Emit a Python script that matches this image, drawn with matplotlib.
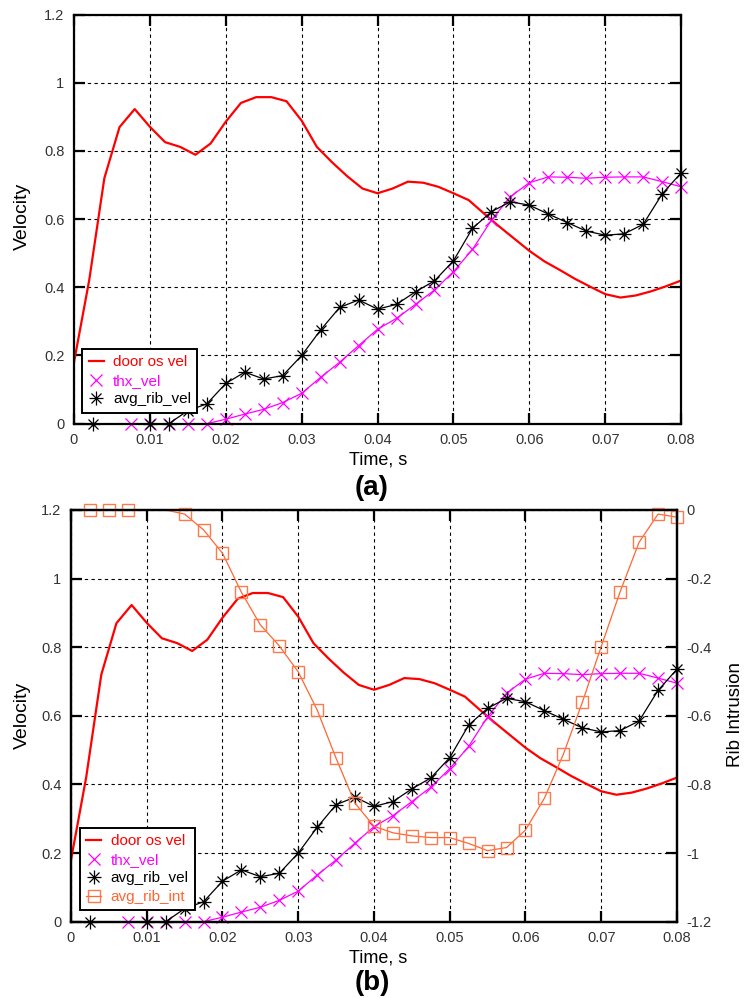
import numpy as np
import matplotlib
matplotlib.use("Agg")
import matplotlib.pyplot as plt
from matplotlib.lines import Line2D
from matplotlib.ticker import FormatStrFormatter, MultipleLocator
from matplotlib.legend_handler import HandlerTuple

plt.rcParams['font.family'] = ['Liberation Sans', 'DejaVu Sans']
plt.rcParams['axes.unicode_minus'] = False

# door os vel, sampled every 2 ms
door_t = np.arange(0, 0.0801, 0.002)
door_vel = [0.18, 0.42, 0.72, 0.87, 0.923, 0.871, 0.826, 0.812, 0.789, 0.822,
            0.886, 0.941, 0.958, 0.958, 0.946, 0.889, 0.812, 0.767, 0.726, 0.690,
            0.676, 0.690, 0.710, 0.707, 0.695, 0.676, 0.656, 0.617, 0.579, 0.543,
            0.507, 0.476, 0.451, 0.425, 0.402, 0.380, 0.370, 0.376, 0.388, 0.403,
            0.420]

thx_t = [0.0075, 0.01, 0.0125, 0.015, 0.0175, 0.02, 0.0225, 0.025, 0.0275, 0.03,
         0.0325, 0.035, 0.0375, 0.04, 0.0425, 0.045, 0.0475, 0.05, 0.0525, 0.055,
         0.0575, 0.06, 0.0625, 0.065, 0.0675, 0.07, 0.0725, 0.075, 0.0775, 0.08]
thx_vel = [0, 0, 0, 0, 0, 0.013, 0.028, 0.042, 0.062, 0.089,
           0.136, 0.180, 0.229, 0.277, 0.309, 0.350, 0.392, 0.446, 0.511, 0.597,
           0.666, 0.707, 0.724, 0.723, 0.720, 0.723, 0.724, 0.724, 0.710, 0.695]

rib_t = [0.0025, 0.005, 0.0075, 0.01, 0.0125, 0.015, 0.0175, 0.02, 0.0225, 0.025,
         0.0275, 0.03, 0.0325, 0.035, 0.0375, 0.04, 0.0425, 0.045, 0.0475, 0.05,
         0.0525, 0.055, 0.0575, 0.06, 0.0625, 0.065, 0.0675, 0.07, 0.0725, 0.075,
         0.0775, 0.08]
rib_vel = [0, 0, 0, 0, 0, 0.038, 0.058, 0.118, 0.151, 0.131,
           0.141, 0.200, 0.275, 0.341, 0.363, 0.336, 0.350, 0.387, 0.419, 0.478,
           0.573, 0.622, 0.651, 0.641, 0.615, 0.590, 0.565, 0.553, 0.557, 0.585,
           0.674, 0.736]
rib_int = [0, 0, 0, 0, 0, -0.012, -0.058, -0.126, -0.240, -0.335,
           -0.396, -0.472, -0.583, -0.724, -0.855, -0.922, -0.941, -0.950, -0.955, -0.955,
           -0.972, -0.993, -0.984, -0.933, -0.840, -0.712, -0.561, -0.398, -0.238, -0.094,
           -0.012, -0.021]

x_ticks = [0, 0.01, 0.02, 0.03, 0.04, 0.05, 0.06, 0.07, 0.08]

RED = '#FF0000'
MAG = '#FF00FF'
ORANGE = '#FF6633'
ORANGE_MK = '#FF7A4A'

# markers shown on the vel / int curves (the plotted data is not touched)
vel_marks = [0, 3, 4] + list(range(5, len(rib_t)))
int_marks = [0, 1, 2] + list(range(5, len(rib_t)))


def style_axes(ax):
    ax.set_xlim(0, 0.08)
    ax.set_ylim(0, 1.2)
    ax.set_xticks(x_ticks)
    ax.xaxis.set_major_formatter(FormatStrFormatter('%g'))
    ax.yaxis.set_major_locator(MultipleLocator(0.2))
    ax.yaxis.set_major_formatter(FormatStrFormatter('%g'))
    ax.tick_params(direction='in', length=8, width=1.6, labelsize=10.5,
                   labelcolor='#333333', top=True, pad=7)
    for s in ax.spines.values():
        s.set_linewidth(1.6)
    ax.grid(True, color='black', linestyle=(0, (3, 3)), linewidth=0.8)
    ax.set_axisbelow(True)


def draw_velocities(ax):
    ax.plot(door_t, door_vel, color=RED, lw=1.6)
    ax.plot(thx_t, thx_vel, color=MAG, lw=0.9, marker='x', ms=8, mew=0.9,
            clip_on=False)
    ax.plot(rib_t, rib_vel, color='black', lw=0.9, marker='+', ms=10.5,
            mew=0.9, markevery=vel_marks, clip_on=False)
    ax.plot(rib_t, rib_vel, color='black', lw=0, marker='x', ms=7.5,
            mew=0.9, markevery=vel_marks, clip_on=False)
    ax.plot(rib_t, rib_vel, color='black', lw=0, marker='o', ms=2,
            markevery=vel_marks, clip_on=False)


def legend_handles(with_int):
    hs = [Line2D([], [], color=RED, lw=1.6),
          Line2D([], [], color=MAG, lw=0, marker='x', ms=8, mew=0.9),
          (Line2D([], [], color='black', lw=0, marker='+', ms=10.5, mew=0.9),
           Line2D([], [], color='black', lw=0, marker='x', ms=7.5, mew=0.9))]
    names = ['door os vel', 'thx_vel', 'avg_rib_vel']
    colors = [RED, MAG, 'black']
    if with_int:
        hs.append(Line2D([], [], color=ORANGE, lw=0.9, marker='s', ms=9,
                         mfc='none', mec=ORANGE_MK, mew=1.0))
        names.append('avg_rib_int')
        colors.append(ORANGE)
    return hs, names, colors


def add_legend(ax, with_int, anchor):
    hs, names, colors = legend_handles(with_int)
    leg = ax.legend(hs, names, handler_map={tuple: HandlerTuple(ndivide=1)},
                    loc='lower left', bbox_to_anchor=anchor, borderaxespad=0,
                    fontsize=11, fancybox=False, framealpha=1, edgecolor='black',
                    handlelength=1.0, handletextpad=0.6, labelspacing=0.3,
                    borderpad=0.4)
    leg.get_frame().set_linewidth(1.4)
    for txt, c in zip(leg.get_texts(), colors):
        txt.set_color(c)


fig = plt.figure(figsize=(7.45, 9.98), dpi=100)

# (a)
ax1 = fig.add_axes([0.0993, 0.5755, 0.815, 0.4098])
style_axes(ax1)
ax1.tick_params(right=True, labelright=False)
draw_velocities(ax1)
add_legend(ax1, False, (0.014, 0.027))

# (b)
ax2 = fig.add_axes([0.0953, 0.0765, 0.8134, 0.4125])
style_axes(ax2)
ax2.tick_params(right=False)
draw_velocities(ax2)
ax3 = ax2.twinx()
ax3.set_ylim(-1.2, 0)
ax3.yaxis.set_major_locator(MultipleLocator(0.2))
ax3.yaxis.set_major_formatter(FormatStrFormatter('%g'))
ax3.tick_params(direction='in', length=8, width=1.6, labelsize=10.5,
                labelcolor='#333333', pad=7)
for s in ax3.spines.values():
    s.set_linewidth(1.6)
ax3.plot(rib_t, rib_int, color=ORANGE, lw=0.9, marker='s', ms=9,
         mfc='none', mec=ORANGE_MK, mew=1.0, markevery=int_marks, clip_on=False)
add_legend(ax3, True, (0.015, 0.028))

fig.text(0.9866, 0.2836, 'Rib Intrusion', rotation=90, fontsize=13.5,
         ha='center', va='center')
for yc, yl, yt, tag in [(0.7836, 0.5391, 0.511, '(a)'),
                        (0.2836, 0.0401, 0.015, '(b)')]:
    fig.text(0.0295, yc, 'Velocity', rotation=90, fontsize=14,
             ha='center', va='center')
    fig.text(0.507, yl, 'Time, s', fontsize=13, ha='center', va='center')
    fig.text(0.4993, yt, tag, fontsize=20, fontweight='bold',
             ha='center', va='center')

fig.savefig('out.png', dpi=100)
